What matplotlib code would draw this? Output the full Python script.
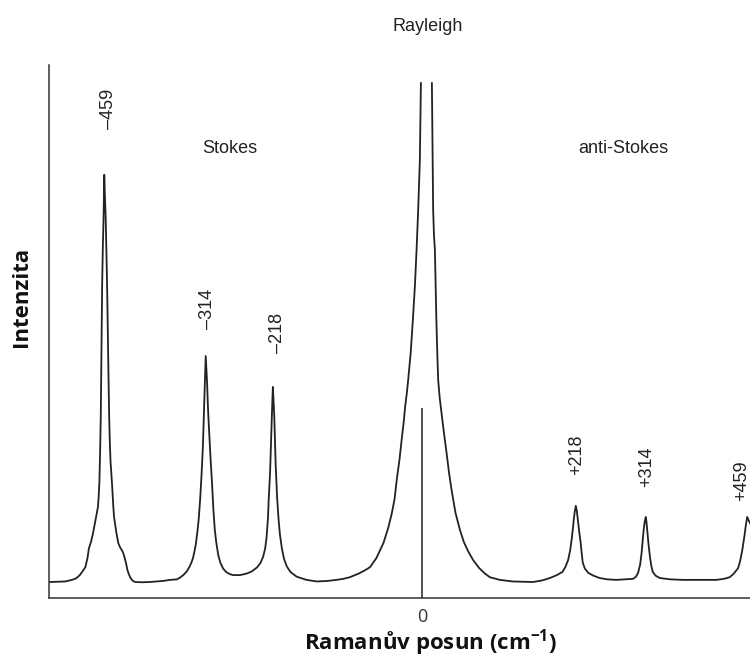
import numpy as np
import matplotlib
matplotlib.use("Agg")
import matplotlib.pyplot as plt

plt.rcParams['mathtext.fontset'] = 'custom'
plt.rcParams['mathtext.rm'] = 'Open Sans'
plt.rcParams['mathtext.default'] = 'regular'

# Traced spectrum (Raman shift in cm-1, intensity in arb. units 0-100)
# NaN breaks the line where the Rayleigh peak runs off the top
shift = [-533, -510, -500, -494, -489, -485, -481, -478, -476, -473, -470, -467, -465,
         -463, -462, -461, -460, -459, -458, -457, -456, -455, -454, -453, -452, -451,
         -450, -449, -448, -447, -446, -445, -443, -441, -440, -437, -434, -431, -429,
         -427, -425, -423, -421, -419, -417, -414, -410, -400, -389, -370, -360, -350,
         -345, -341, -336, -332, -329, -327, -325, -323, -321, -319, -317, -315, -313,
         -312, -311, -310, -309, -308, -307, -306, -305, -304, -302, -300, -298, -296,
         -294, -291, -288, -284, -280, -275, -270, -260, -250, -243, -236, -231, -227,
         -224, -222, -220, -219, -217, -216, -215, -214, -213, -212, -211, -210, -209,
         -207, -205, -203, -200, -197, -193, -188, -179, -165, -150, -135, -122, -112,
         -103, -90, -80, -74, -65, -55, -48, -43, -39, -36, -32, -29, -26, -24, -21.5,
         -19.6, -16, -12.9, -10, -7.6, -5.3, -2.9, -1.4, np.nan,
         14.3, 15.3, 16.1, 17.3, 18.6, 19.7, 20.7, 22, 23.3, 25.5, 28.1, 31.5, 35.3, 38.8,
         42.4, 48, 54.3, 60, 66, 73.3, 82, 90, 97.1, 111.4, 130, 159, 172, 183, 193, 201,
         205, 209, 212, 214, 216, 217, 218.5, 220, 221.5, 223, 225, 227, 228.5, 230, 233,
         238, 245, 254, 265, 278, 290, 302, 306, 309, 312, 314, 315.5, 317, 318.5, 320,
         321, 322, 324, 326, 328, 330, 334, 340, 355, 373, 400, 421, 432, 440, 446, 452,
         455, 458, 461, 463, 465, 467, 469, 473]
intensity = [3.0, 3.1, 3.4, 3.7, 4.3, 5.0, 5.8, 7.5, 9.3, 10.5, 12.2, 14.3, 15.8,
             17.1, 19.0, 21.6, 27.0, 34.0, 46.0, 59.1, 66.0, 71.5, 79.4, 75.0, 71.5, 65.0,
             59.1, 50.0, 42.0, 34.0, 29.0, 25.5, 21.6, 17.0, 15.2, 12.5, 10.3, 9.4, 9.0,
             8.5, 7.6, 6.6, 5.3, 4.5, 3.9, 3.3, 3.0, 2.95, 3.0, 3.2, 3.4, 3.5,
             3.9, 4.3, 5.0, 5.9, 6.8, 7.6, 8.8, 10.2, 12.3, 14.8, 18.4, 23.0, 28.5,
             32.5, 37.0, 41.5, 45.4, 43.0, 40.3, 36.5, 33.5, 31.0, 26.0, 21.6, 16.5, 12.8,
             10.5, 8.0, 6.6, 5.5, 4.9, 4.5, 4.3, 4.3, 4.6, 5.0, 5.7, 6.5, 7.7,
             9.3, 11.4, 15.0, 18.4, 23.5, 27.8, 32.0, 36.0, 39.6, 37.0, 34.0, 29.5, 25.0,
             19.0, 15.0, 12.0, 9.2, 7.3, 5.9, 4.9, 4.0, 3.4, 3.1, 3.2, 3.4, 3.6,
             3.9, 4.6, 5.3, 5.8, 7.5, 10.3, 13.2, 15.9, 18.6, 22.1, 26.0, 29.6, 33.0, 35.8, 38.5,
             40.9, 46.0, 52.2, 58.5, 65.3, 72.8, 82.2, 96.6, np.nan,
             96.6, 82.2, 72.8, 68.0, 65.3, 58.5, 52.2, 46.0, 40.9, 37.5, 34.7, 31.0, 27.2, 23.5,
             20.3, 16.0, 12.8, 10.5, 8.8, 7.1, 5.6, 4.6, 3.9, 3.4, 3.1, 3.0, 3.3, 3.75, 4.3, 4.9,
             5.8, 7.1, 9.0, 10.9, 13.2, 14.6, 16.2, 17.3, 16.3, 14.6, 12.3, 10.3, 8.3, 6.6, 5.5,
             4.7, 4.2, 3.75, 3.5, 3.4, 3.5, 3.6, 4.0, 4.7, 6.3, 8.4, 10.6, 12.8, 14.3, 15.2,
             14.3, 12.8, 10.0, 7.7, 6.0, 4.9, 4.2, 3.75, 3.5, 3.4, 3.4, 3.4, 3.6, 3.9, 4.6, 5.6,
             7.0, 9.0, 11.6, 13.6, 15.2, 14.6, 14.1, 12.8]

# peak annotations
peak_labels = ['\u2013459', '\u2013314', '\u2013218', '+218', '+314', '+459']
label_x = [-448.6, -307, -207, 221.4, 321.4, 457]
label_y = [91.7, 54.2, 49.7, 26.8, 24.6, 22.1]

region_labels = ['Rayleigh', 'Stokes', 'anti-Stokes']
region_x = [8.6, -274, 288.6]
region_y = [107.3, 84.4, 84.4]

laser_line = 0
laser_height = 35.6

fig = plt.figure(figsize=(7.5, 6.57), dpi=100)
ax = fig.add_axes([49 / 750, 59 / 657, 701 / 750, 533 / 657])

ax.plot(shift, intensity, color='#222222', lw=1.3)
ax.vlines(laser_line, 0, laser_height, color='#222222', lw=1.1)

for t, x, y in zip(peak_labels, label_x, label_y):
    ax.text(x, y, t, rotation=90, ha='center', va='center', fontsize=13,
            family='Liberation Sans', color='#222222', clip_on=False)
for t, x, y in zip(region_labels, region_x, region_y):
    ax.text(x, y, t, ha='center', va='center', fontsize=13,
            family='Liberation Sans', color='#222222', clip_on=False)

ax.set_xlim(-533, 469)
ax.set_ylim(0, 100)
ax.spines['top'].set_visible(False)
ax.spines['right'].set_visible(False)
for s in ['left', 'bottom']:
    ax.spines[s].set_color('#333333')
    ax.spines[s].set_linewidth(1.1)
ax.set_yticks([])
ax.set_xticks([0])
ax.set_xticklabels(['0'], family='Open Sans', fontsize=13, color='#333333')
ax.tick_params(axis='x', length=0, pad=7)

fig.text(431 / 750, 1 - 643 / 657, 'Ramanův posun (cm$^{-1}$)', ha='center', va='center',
         fontsize=16, family='Open Sans', fontweight='bold', color='#111111')
fig.text(22 / 750, 1 - 297 / 657, 'Intenzita', rotation=90, ha='center', va='center',
         fontsize=16, family='Open Sans', fontweight='bold', color='#111111')

fig.savefig('out.png', dpi=100)
